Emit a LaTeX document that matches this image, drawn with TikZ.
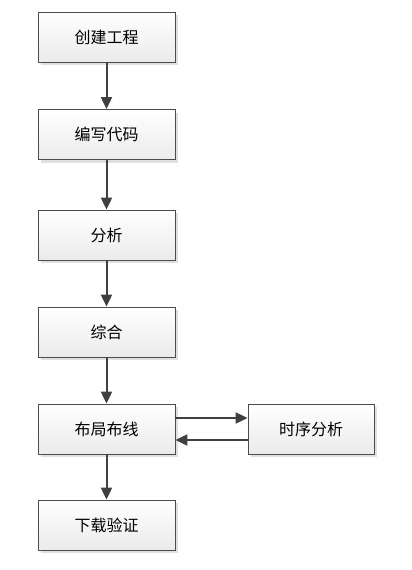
\documentclass[tikz,border=0pt]{standalone}
\usepackage{fontspec}
\newfontfamily\cjk{Noto Sans CJK SC}
\usetikzlibrary{arrows.meta,shadows}
\tikzset{
  box/.style={draw=black!70, line width=0.8pt, top color=white, bottom color=black!8,
    minimum width=137pt, minimum height=50pt, inner sep=0pt, font=\cjk\fontsize{16}{16}\selectfont,
    drop shadow={shadow xshift=3pt, shadow yshift=-3pt, fill=black!12, opacity=1}},
  arr/.style={draw=black!75, line width=2pt, -{Triangle[length=12pt,width=11pt]}}
}
\begin{document}
\begin{tikzpicture}[x=1pt,y=-1pt]
\useasboundingbox (0,0) rectangle (412,570);
\node[box] (a) at (106.5,37) {创建工程};
\node[box] (b) at (106.5,134.5) {编写代码};
\node[box] (c) at (106.5,235) {分析};
\node[box] (d) at (106.5,332) {综合};
\node[box] (e) at (106.5,429) {布局布线};
\node[box] (f) at (106.5,525) {下载验证};
\node[box, minimum width=126pt] (g) at (311,429) {时序分析};
\draw[arr] (a) -- (b);
\draw[arr] (b) -- (c);
\draw[arr] (c) -- (d);
\draw[arr] (d) -- (e);
\draw[arr] (e) -- (f);
\draw[arr] ([yshift=11pt]e.east) -- ([yshift=11pt]g.west);
\draw[arr] ([yshift=-11pt]g.west) -- ([yshift=-11pt]e.east);
\end{tikzpicture}
\end{document}
